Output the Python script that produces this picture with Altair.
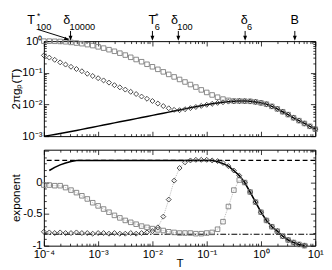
import altair as alt
import pandas as pd

# ---------------- data ----------------
log_T = [-4.0, -3.9, -3.8, -3.7, -3.6, -3.5, -3.4, -3.3, -3.2, -3.1,
         -3.0, -2.9, -2.8, -2.7, -2.6, -2.5, -2.4, -2.3, -2.2, -2.1,
         -2.0, -1.9, -1.8, -1.7, -1.6, -1.5, -1.4, -1.3, -1.2, -1.1,
         -1.0, -0.9, -0.8, -0.7, -0.6, -0.5, -0.4, -0.3, -0.2, -0.1,
         0.0, 0.1, 0.2, 0.3, 0.4, 0.5, 0.6, 0.7, 0.8, 0.9, 1.0]

# top panel: log10 of 2*pi*g_p(T)
top_squares_log = [0.0, 0.0, -0.005, -0.01, -0.02, -0.04, -0.06, -0.08, -0.11, -0.14,
                   -0.18, -0.22, -0.27, -0.32, -0.38, -0.44, -0.51, -0.58, -0.65, -0.73,
                   -0.81, -0.89, -0.97, -1.05, -1.13, -1.21, -1.29, -1.37, -1.45, -1.54,
                   -1.62, -1.70, -1.77, -1.83, -1.87, -1.89, -1.89, -1.895, -1.90, -1.92,
                   -1.95, -1.99, -2.06, -2.14, -2.23, -2.32, -2.42, -2.51, -2.60, -2.69, -2.78]
top_diamonds_log = [-0.45, -0.52, -0.59, -0.67, -0.74, -0.81, -0.88, -0.95, -1.03, -1.10,
                    -1.17, -1.24, -1.31, -1.39, -1.46, -1.53, -1.60, -1.67, -1.75, -1.82,
                    -1.89, -1.97, -2.05, -2.12, -2.17, -2.18, -2.15, -2.115, -2.08, -2.045,
                    -2.01, -1.98, -1.95, -1.93, -1.91, -1.90, -1.892, -1.892, -1.90, -1.92,
                    -1.95, -1.99, -2.06, -2.14, -2.23, -2.32, -2.42, -2.51, -2.60, -2.69, -2.78]
top_solid_log = [-3.00, -2.975, -2.948, -2.918, -2.886, -2.853, -2.82, -2.786, -2.752, -2.718,
                 -2.684, -2.65, -2.616, -2.582, -2.548, -2.514, -2.48, -2.446, -2.412, -2.378,
                 -2.344, -2.31, -2.276, -2.242, -2.208, -2.174, -2.14, -2.106, -2.073, -2.04,
                 -2.008, -1.978, -1.951, -1.928, -1.91, -1.898, -1.892, -1.892, -1.90, -1.92,
                 -1.95, -1.99, -2.06, -2.14, -2.23, -2.32, -2.42, -2.51, -2.60, -2.69, -2.78]

# bottom panel: exponent (points for the first 49 temperatures)
bot_squares = [-0.04, -0.04, -0.05, -0.05, -0.08, -0.12, -0.16, -0.21, -0.26, -0.32,
               -0.37, -0.42, -0.47, -0.52, -0.56, -0.60, -0.63, -0.66, -0.69, -0.71,
               -0.73, -0.75, -0.76, -0.78, -0.79, -0.80, -0.80, -0.80, -0.81, -0.81,
               -0.80, -0.79, -0.74, -0.62, -0.38, -0.12, 0.04, 0.0, -0.15, -0.31,
               -0.47, -0.60, -0.70, -0.77, -0.85, -0.91, -0.95, -0.98, -1.0]
bot_diamonds = [-0.78, -0.79, -0.80, -0.79, -0.80, -0.80, -0.79, -0.80, -0.80, -0.81,
                -0.80, -0.80, -0.81, -0.80, -0.81, -0.81, -0.80, -0.81, -0.80, -0.79,
                -0.77, -0.71, -0.54, -0.27, 0.03, 0.23, 0.32, 0.35, 0.36, 0.36,
                0.36, 0.35, 0.34, 0.31, 0.26, 0.19, 0.11, 0.0, -0.15, -0.31,
                -0.47, -0.60, -0.70, -0.77, -0.85, -0.91, -0.95, -0.98, -1.0]
# solid curve from the 2nd to the 49th temperature
bot_solid = [0.19, 0.24, 0.28, 0.31, 0.335, 0.35, 0.35, 0.35, 0.35,
             0.35, 0.35, 0.35, 0.35, 0.35, 0.35, 0.35, 0.35, 0.35, 0.35,
             0.35, 0.35, 0.35, 0.35, 0.35, 0.35, 0.35, 0.35, 0.35, 0.35,
             0.35, 0.35, 0.33, 0.30, 0.26, 0.19, 0.11, 0.0, -0.15, -0.31,
             -0.47, -0.60, -0.70, -0.77, -0.85, -0.91, -0.95, -0.98, -1.0]
dashed_level = 0.35
dashdot_level = -0.82

# annotations above the top panel
ann_T = [2.9e-4, 3.1e-4, 1.0e-2, 3.0e-2, 0.51, 4.2]
ann_main = ["T", "δ", "T", "δ", "δ", "B"]
ann_sub = ["100", "10000", "6", "100", "6", ""]
ann_star = ["*", "", "*", "", "", ""]

# tick labels
x_tick_values = [1e-4, 1e-3, 1e-2, 1e-1, 1e0, 1e1]
x_tick_labels = ["10⁻⁴", "10⁻³", "10⁻²", "10⁻¹", "10⁰", "10¹"]
y_top_values = [1e-3, 1e-2, 1e-1, 1e0]
y_top_labels = ["10⁻³", "10⁻²", "10⁻¹", "10⁰"]
y_bot_values = [-1.0, -0.5, 0.0]
y_bot_labels = ["-1", "-0.5", "0"]

# ---------------- helpers ----------------
FONT = "Liberation Sans"
W = 280
H_TOP = 98
H_BOT = 99

T = [10 ** v for v in log_T]
df_top_sq = pd.DataFrame({"T": T, "g": [10 ** v for v in top_squares_log]})
df_top_di = pd.DataFrame({"T": T, "g": [10 ** v for v in top_diamonds_log]})
df_top_so = pd.DataFrame({"T": T, "g": [10 ** v for v in top_solid_log]})
df_bot_sq = pd.DataFrame({"T": T[:49], "e": bot_squares})
df_bot_di = pd.DataFrame({"T": T[:49], "e": bot_diamonds})
df_bot_so = pd.DataFrame({"T": T[1:49], "e": bot_solid})

xs = alt.Scale(type="log", domain=[1e-4, 10], nice=False)
ys_top = alt.Scale(type="log", domain=[1e-3, 1], nice=False)
ys_bot = alt.Scale(domain=[-1, 0.52], nice=False, zero=False)

x_minor = [m * 10.0 ** e for e in range(-4, 1) for m in range(2, 10)]
y_top_minor = [m * 10.0 ** e for e in range(-3, 0) for m in range(2, 10)]
y_bot_major = [-1.0, -0.5, 0.0, 0.5]
y_bot_minor = [-0.9, -0.8, -0.7, -0.6, -0.4, -0.3, -0.2, -0.1, 0.1, 0.2, 0.3, 0.4]


def expr_from(values, labels):
    parts = []
    for v, lab in zip(values, labels):
        parts.append(f"abs(datum.value - ({v})) < {abs(v) * 0.01 + 1e-9} ? '{lab}' : ")
    return "".join(parts) + "''"


def tick_axis(orient, values, size):
    return alt.Axis(orient=orient, values=values, tickSize=size, offset=-size,
                    labels=False, domain=False, grid=False, title=None, ticks=True,
                    tickColor="black", tickWidth=0.8, minExtent=0)


def label_axis(orient, values, labels, title=None, title_pad=0, pad=2, **kw):
    return alt.Axis(orient=orient, values=values, ticks=False, domain=False, grid=False,
                    labels=True, labelExpr=expr_from(values, labels), labelFont=FONT,
                    labelFontSize=11.5, labelColor="black", labelPadding=pad,
                    labelFlush=False, labelOverlap=False, title=title,
                    titleFont=FONT, titleFontSize=12, titleFontWeight="normal",
                    titleColor="black", titlePadding=title_pad, minExtent=0, **kw)


def carriers(df, yfield, yscale, pairs):
    out = []
    for xa, ya in pairs:
        out.append(alt.Chart(df).mark_point(opacity=0, size=1).encode(
            x=alt.X("T:Q", scale=xs, axis=xa),
            y=alt.Y(f"{yfield}:Q", scale=yscale, axis=ya)))
    return out


X = alt.X("T:Q", scale=xs, axis=None)

# ---------------- top panel ----------------
top_pairs = [
    (tick_axis("bottom", x_tick_values, 5), label_axis("left", y_top_values, y_top_labels, "2πgₚ(T)")),
    (tick_axis("bottom", x_minor, 2.5), tick_axis("left", y_top_values, 5)),
    (tick_axis("top", x_tick_values, 5), tick_axis("left", y_top_minor, 2.5)),
    (tick_axis("top", x_minor, 2.5), tick_axis("right", y_top_values, 5)),
    (None, tick_axis("right", y_top_minor, 2.5)),
]
top_layers = carriers(df_top_so, "g", ys_top, top_pairs)

Yt = alt.Y("g:Q", scale=ys_top, axis=None)
top_layers.append(alt.Chart(df_top_so).mark_line(color="black", strokeWidth=1.5).encode(x=X, y=Yt))
top_layers.append(alt.Chart(df_top_sq).mark_point(shape="square", size=22, filled=False,
                                                  color="#7a7a7a", strokeWidth=0.9, opacity=1).encode(x=X, y=Yt))
top_layers.append(alt.Chart(df_top_di).mark_point(shape="diamond", size=26, filled=False,
                                                  color="#333333", strokeWidth=0.9, opacity=1).encode(x=X, y=Yt))

# annotation offsets (main dx, sub dx, star dx)
ann_off = [(-39, -34, -33), (-4, -1, 0), (0, 2.5, 3), (-4, -1, 0), (-1, 2, 0), (0, 0, 0)]
HEAD_DOWN = "M0,0L-0.8,-2L0.8,-2Z"
HEAD_RIGHT = "M0,0L-2,-0.8L-2,0.8Z"
for i, t in enumerate(ann_T):
    d = pd.DataFrame({"T": [t], "main": [ann_main[i]], "sub": [ann_sub[i]], "star": [ann_star[i]]})
    mdx, sdx, stdx = ann_off[i]
    if i == 0:
        top_layers.append(alt.Chart(d).mark_rule(color="black", strokeWidth=1).encode(
            x=X, y=alt.value(-2), x2=alt.value(-6), y2=alt.value(-12)))
        top_layers.append(alt.Chart(d).mark_point(shape=HEAD_RIGHT, size=25, filled=True, color="black",
                                                  opacity=1, strokeWidth=0, angle=21).encode(
            x=X, y=alt.value(-1)))
    else:
        top_layers.append(alt.Chart(d).mark_rule(color="black", strokeWidth=1).encode(
            x=X, y=alt.value(-10.5), y2=alt.value(-3)))
        top_layers.append(alt.Chart(d).mark_point(shape=HEAD_DOWN, size=25, filled=True, color="black",
                                                  opacity=1, strokeWidth=0).encode(
            x=X, y=alt.value(-0.5)))
    top_layers.append(alt.Chart(d).mark_text(font=FONT, fontSize=13, align="center", baseline="alphabetic",
                                             dx=mdx, color="black").encode(
        x=X, y=alt.value(-17.5), text="main:N"))
    if ann_sub[i]:
        top_layers.append(alt.Chart(d).mark_text(font=FONT, fontSize=9.5, align="left", baseline="alphabetic",
                                                 dx=sdx, color="black").encode(
            x=X, y=alt.value(-12), text="sub:N"))
    if ann_star[i]:
        top_layers.append(alt.Chart(d).mark_text(font=FONT, fontSize=8.5, align="left", baseline="alphabetic",
                                                 dx=stdx, color="black").encode(
            x=X, y=alt.value(-22.5), text="star:N"))

top = alt.layer(*top_layers).resolve_axis(x="independent", y="independent").properties(width=W, height=H_TOP)

# ---------------- bottom panel ----------------
x_lab = label_axis("bottom", x_tick_values, x_tick_labels, "T", pad=3,
                   titleY=21.5, titleBaseline="alphabetic")
bot_pairs = [
    (x_lab, label_axis("left", y_bot_values, y_bot_labels, "exponent")),
    (tick_axis("bottom", x_tick_values, 5), tick_axis("left", y_bot_major, 5)),
    (tick_axis("bottom", x_minor, 2.5), tick_axis("left", y_bot_minor, 2.5)),
    (tick_axis("top", x_tick_values, 5), tick_axis("right", y_bot_major, 5)),
    (tick_axis("top", x_minor, 2.5), tick_axis("right", y_bot_minor, 2.5)),
]
bot_layers = carriers(df_bot_so, "e", ys_bot, bot_pairs)
Yb = alt.Y("e:Q", scale=ys_bot, axis=None)

bot_layers.append(alt.Chart(pd.DataFrame({"e": [dashed_level]})).mark_rule(
    color="black", strokeWidth=1.2, strokeDash=[5, 3]).encode(y=Yb))
bot_layers.append(alt.Chart(pd.DataFrame({"e": [dashdot_level]})).mark_rule(
    color="black", strokeWidth=1.1, strokeDash=[6, 2, 1.5, 2]).encode(y=Yb))
bot_layers.append(alt.Chart(df_bot_sq).mark_line(color="#9a9a9a", strokeWidth=0.7, strokeDash=[1, 1]).encode(x=X, y=Yb))
bot_layers.append(alt.Chart(df_bot_di).mark_line(color="#9a9a9a", strokeWidth=0.7, strokeDash=[1, 1]).encode(x=X, y=Yb))
bot_layers.append(alt.Chart(df_bot_so).mark_line(color="black", strokeWidth=1.6).encode(x=X, y=Yb))
bot_layers.append(alt.Chart(df_bot_sq).mark_point(shape="square", size=22, filled=False,
                                                  color="#7a7a7a", strokeWidth=0.9, opacity=1).encode(x=X, y=Yb))
bot_layers.append(alt.Chart(df_bot_di).mark_point(shape="diamond", size=26, filled=False,
                                                  color="#333333", strokeWidth=0.9, opacity=1).encode(x=X, y=Yb))

bottom = alt.layer(*bot_layers).resolve_axis(x="independent", y="independent").properties(width=W, height=H_BOT)

chart = alt.vconcat(top, bottom, spacing=7).properties(
    padding={"left": 0, "top": 0, "right": 0, "bottom": 0},
    background="white",
).configure_view(stroke="black", strokeWidth=1)

chart.save("out.html", embed_options={"renderer": "svg", "actions": False})
